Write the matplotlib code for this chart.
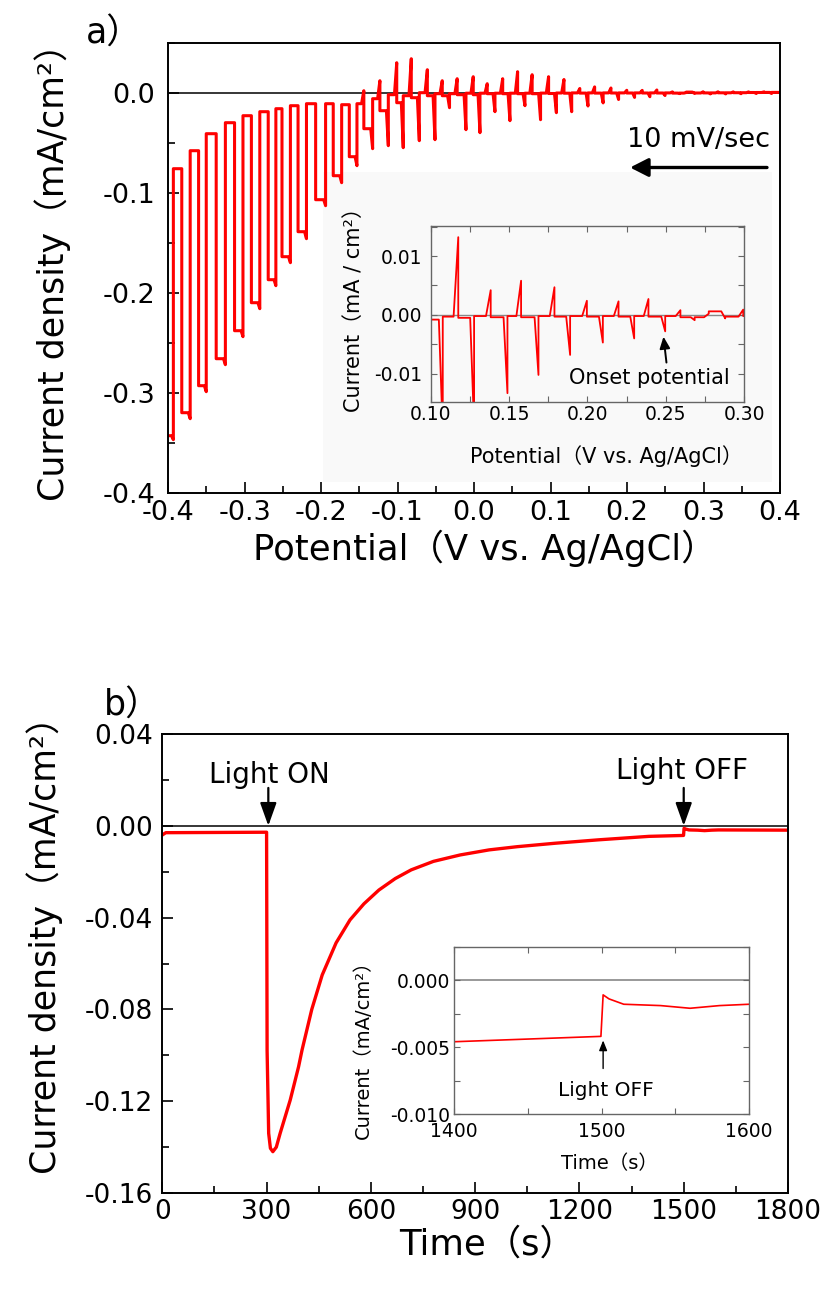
import matplotlib
matplotlib.use("Agg")
import matplotlib.pyplot as plt
from matplotlib.ticker import MultipleLocator, FormatStrFormatter
from matplotlib.patches import Rectangle

plt.rcParams['font.family'] = ['DejaVu Sans', 'Noto Sans CJK SC']
plt.rcParams['axes.unicode_minus'] = False

# ---------------- data: panel a (chopped-light sweep), cycles low -> high potential ----------------
a_light_off_v = [-0.400, -0.382, -0.360, -0.337, -0.313, -0.291, -0.269, -0.251, -0.230, -0.207,
                 -0.184, -0.163, -0.144, -0.123, -0.101, -0.082, -0.061, -0.0415, -0.022, -0.001,
                 0.0173, 0.0375, 0.057, 0.076, 0.0975, 0.1176, 0.1383, 0.1577, 0.179, 0.1997,
                 0.2199, 0.239, 0.2594, 0.2775, 0.2995, 0.319, 0.339, 0.359, 0.379]
a_light_on_v = [-0.393, -0.371, -0.350, -0.325, -0.302, -0.280, -0.259, -0.240, -0.219, -0.194,
                -0.173, -0.153, -0.1325, -0.112, -0.0925, -0.0715, -0.051, -0.032, -0.0105, 0.0078,
                0.0274, 0.047, 0.0666, 0.087, 0.1077, 0.1277, 0.149, 0.1688, 0.189, 0.2099,
                0.2299, 0.2497, 0.2685, 0.2880, 0.309, 0.329, 0.349, 0.369, 0.389]
a_light_j = [-0.343, -0.320, -0.293, -0.266, -0.238, -0.210, -0.187, -0.164, -0.139, -0.107,
             -0.083, -0.064, -0.036, -0.018, -0.010, -0.005, -0.003, -0.003, -0.002, -0.002,
             -0.001, -0.001, -0.001, -0.001, -0.0008, -0.0005, -0.0004, -0.0004, -0.0003, -0.0003,
             -0.0003, -0.0003, -0.0004, 0.0006, -0.0002, -0.0001, 0.0, 0.0002, 0.0003]
a_dip_j = [-0.347, -0.326, -0.299, -0.272, -0.244, -0.216, -0.193, -0.170, -0.146, -0.113,
           -0.090, -0.073, -0.056, -0.053, -0.055, -0.048, -0.047, -0.015, -0.037, -0.040,
           -0.019, -0.028, -0.013, -0.027, -0.020, -0.019, -0.0133, -0.0102, -0.0068, -0.0047,
           -0.0040, -0.0028, -0.0009, -0.0006, -0.0012, -0.0012, -0.0010, -0.0008, -0.0008]
a_peak_j = [-0.343, -0.076, -0.058, -0.041, -0.030, -0.023, -0.019, -0.016, -0.013, -0.011,
            -0.011, -0.012, 0.002, 0.012, 0.030, 0.034, 0.023, 0.012, 0.014, 0.016,
            0.009, 0.014, 0.021, 0.018, 0.016, 0.0132, 0.0042, 0.0058, 0.0047, 0.0024,
            0.0023, 0.0027, 0.0008, 0.0002, 0.0009, 0.0009, 0.0008, 0.0008, 0.0008]
a_dark_j = [-0.076, -0.058, -0.041, -0.030, -0.023, -0.019, -0.016, -0.013, -0.011, -0.011,
            -0.012, -0.011, -0.006, -0.002, -0.003, 0.000, -0.001, -0.001, -0.0005, -0.0005,
            -0.0005, -0.0005, -0.0005, -0.0004, -0.0003, -0.0002, -0.0002, -0.0002, -0.0002, -0.0002,
            -0.0002, -0.0002, -0.0004, -0.0003, -0.0002, -0.0001, 0.0, 0.0002, 0.0003]

# ---------------- data: panel b (chronoamperometry) ----------------
b_time = [0, 10, 300, 301.5, 306, 311, 318, 328, 339, 368, 392, 402, 430, 460, 500, 540, 580,
          623, 670, 716, 780, 857, 940, 1021, 1130, 1256, 1400, 1450, 1499.5, 1501, 1505, 1515,
          1540, 1560, 1580, 1600, 1800]
b_current = [-0.0040, -0.0030, -0.0028, -0.098, -0.134, -0.1405, -0.142, -0.140, -0.134, -0.1195,
             -0.105, -0.0977, -0.080, -0.065, -0.051, -0.041, -0.034, -0.028, -0.023, -0.0192,
             -0.0155, -0.0127, -0.0105, -0.0091, -0.0076, -0.0061, -0.0046, -0.0044, -0.0042,
             -0.0011, -0.0014, -0.0018, -0.0019, -0.0021, -0.0019, -0.0018, -0.0019]

# ---------------- figure ----------------
W, H = 826, 1295
fig = plt.figure(figsize=(W / 100, H / 100), dpi=100)
RED = '#ff0000'


def ax_px(l, t, r, b):
    return fig.add_axes([l / W, 1 - b / H, (r - l) / W, (b - t) / H])


def ftext(x, y, s, **kw):
    fig.text(x / W, 1 - y / H, s, **kw)


# build polyline vertices for panel a from the read cycle values
DIP_W, PEAK_W = 0.0025, 0.003
xa, ya = [-0.4], [a_light_j[0]]
for i in range(len(a_light_on_v)):
    if i > 0:
        xa += [a_light_off_v[i] - PEAK_W, a_light_off_v[i], a_light_off_v[i]]
        ya += [a_dark_j[i - 1], a_peak_j[i], a_light_j[i]]
    xa += [a_light_on_v[i] - DIP_W, a_light_on_v[i], a_light_on_v[i]]
    ya += [a_light_j[i], a_dip_j[i], a_dark_j[i]]
xa.append(0.4)
ya.append(a_dark_j[-1])

# ---------- panel a main ----------
axa = ax_px(168, 42.7, 780, 492.7)
axa.add_patch(Rectangle((323 / W, 1 - 482 / H), 449 / W, 310 / H, transform=fig.transFigure,
                        facecolor='#f9f9f9', edgecolor='none', zorder=0.5))
axa.axhline(0, color='black', lw=1.1, zorder=1)
axa.plot(xa, ya, color=RED, lw=2.2, solid_joinstyle='round', zorder=2)
axa.set_xlim(-0.4, 0.4)
axa.set_ylim(-0.4, 0.05)
axa.xaxis.set_major_locator(MultipleLocator(0.1))
axa.xaxis.set_minor_locator(MultipleLocator(0.05))
axa.yaxis.set_major_locator(MultipleLocator(0.1))
axa.yaxis.set_minor_locator(MultipleLocator(0.05))
axa.xaxis.set_major_formatter(FormatStrFormatter('%.1f'))
axa.yaxis.set_major_formatter(FormatStrFormatter('%.1f'))
axa.tick_params(which='both', direction='in', top=False, right=False, width=1.2)
axa.tick_params(which='major', length=8, labelsize=19.5)
axa.tick_params(which='minor', length=5)
axa.tick_params(axis='y', which='major', pad=9)
axa.tick_params(axis='x', which='major', pad=5)
for s in axa.spines.values():
    s.set_linewidth(1.4)
axa.annotate('', xy=(0.204, -0.0748), xytext=(0.383, -0.0748),
             arrowprops=dict(arrowstyle='-|>,head_length=0.55,head_width=0.28', lw=2.4,
                             color='black', mutation_scale=20, shrinkA=0, shrinkB=0))
axa.text(0.293, -0.047, '10 mV/sec', fontsize=19.5, ha='center', va='center')

ftext(53, 264, 'Current density（mA/cm²）', fontsize=25, rotation=90, ha='center', va='center')
ftext(485, 548, 'Potential（V vs. Ag/AgCl）', fontsize=25.5, ha='center', va='center')
ftext(86, 34, 'a）', fontsize=25, ha='left', va='center')

# ---------- panel a inset ----------
axi = ax_px(430.7, 226, 744, 402)
axi.set_facecolor('#f9f9f9')
axi.axhline(0, color='#888888', lw=1.0, zorder=1)
axi.plot(xa, ya, color=RED, lw=1.3, zorder=2)
axi.set_xlim(0.10, 0.30)
axi.set_ylim(-0.0148, 0.0151)
axi.xaxis.set_major_locator(MultipleLocator(0.05))
axi.xaxis.set_minor_locator(MultipleLocator(0.025))
axi.yaxis.set_major_locator(MultipleLocator(0.01))
axi.yaxis.set_minor_locator(MultipleLocator(0.005))
axi.xaxis.set_major_formatter(FormatStrFormatter('%.2f'))
axi.yaxis.set_major_formatter(FormatStrFormatter('%.2f'))
axi.tick_params(which='both', direction='in', top=True, right=True, width=0.8, color='#666666')
axi.tick_params(which='major', length=4, labelsize=13.5)
axi.tick_params(which='minor', length=4)
axi.tick_params(axis='y', which='major', pad=6)
axi.tick_params(axis='x', which='major', pad=2)
for s in axi.spines.values():
    s.set_linewidth(1.0)
    s.set_color('#666666')
axi.annotate('', xy=(0.2486, -0.0037), xytext=(0.2505, -0.0081),
             arrowprops=dict(arrowstyle='-|>,head_length=0.5,head_width=0.22', lw=1.4,
                             color='black', mutation_scale=14, shrinkA=0, shrinkB=0))
ftext(649, 378, 'Onset potential', fontsize=15, ha='center', va='center')
ftext(606, 456, 'Potential（V vs. Ag/AgCl）', fontsize=15, ha='center', va='center')
ftext(354, 305, 'Current（mA / cm²）', fontsize=15, rotation=90, ha='center', va='center')

# ---------- panel b main ----------
axb = ax_px(162.3, 734, 788, 1193)
axb.axhline(0, color='black', lw=1.1, zorder=1)
axb.plot(b_time, b_current, color=RED, lw=2.4, solid_joinstyle='round', zorder=2)
axb.set_xlim(0, 1800)
axb.set_ylim(-0.16, 0.04)
axb.xaxis.set_major_locator(MultipleLocator(300))
axb.xaxis.set_minor_locator(MultipleLocator(150))
axb.yaxis.set_major_locator(MultipleLocator(0.04))
axb.yaxis.set_minor_locator(MultipleLocator(0.02))
axb.yaxis.set_major_formatter(FormatStrFormatter('%.2f'))
axb.tick_params(which='both', direction='in', top=False, right=False, width=1.2)
axb.tick_params(which='major', length=8, labelsize=19)
axb.tick_params(which='minor', length=5)
axb.tick_params(axis='y', which='major', pad=7)
axb.tick_params(axis='x', which='major', pad=4)
for s in axb.spines.values():
    s.set_linewidth(1.4)
for t_arrow in (305, 1500):
    axb.annotate('', xy=(t_arrow, 0.0), xytext=(t_arrow, 0.0165),
                 arrowprops=dict(arrowstyle='-|>,head_length=0.7,head_width=0.25', lw=1.6,
                                 color='black', mutation_scale=20, shrinkA=0, shrinkB=0))
ftext(269, 775, 'Light ON', fontsize=20, ha='center', va='center')
ftext(682, 771, 'Light OFF', fontsize=20, ha='center', va='center')

ftext(45, 937, 'Current density（mA/cm²）', fontsize=25, rotation=90, ha='center', va='center')
ftext(487, 1245, 'Time（s）', fontsize=25.5, ha='center', va='center')
ftext(104, 706, 'b）', fontsize=25, ha='left', va='center')

# ---------- panel b inset ----------
axbi = ax_px(454.3, 946.7, 749, 1114)
axbi.axhline(0, color='#888888', lw=1.2, zorder=1)
axbi.plot(b_time, b_current, color=RED, lw=1.2, zorder=2)
axbi.set_xlim(1400, 1600)
axbi.set_ylim(-0.010, 0.0025)
axbi.xaxis.set_major_locator(MultipleLocator(100))
axbi.xaxis.set_minor_locator(MultipleLocator(50))
axbi.yaxis.set_major_locator(MultipleLocator(0.005))
axbi.yaxis.set_minor_locator(MultipleLocator(0.0025))
axbi.yaxis.set_major_formatter(FormatStrFormatter('%.3f'))
axbi.tick_params(which='both', direction='in', top=True, right=True, width=0.8, color='#666666')
axbi.tick_params(which='major', length=4, labelsize=13.5)
axbi.tick_params(which='minor', length=4)
axbi.tick_params(axis='y', which='major', pad=3)
axbi.tick_params(axis='x', which='major', pad=6)
for s in axbi.spines.values():
    s.set_linewidth(1.0)
    s.set_color('#666666')
axbi.annotate('', xy=(1501, -0.0045), xytext=(1501, -0.0066),
              arrowprops=dict(arrowstyle='-|>,head_length=0.5,head_width=0.2', lw=1.0,
                              color='black', mutation_scale=12, shrinkA=0, shrinkB=0))
ftext(606, 1090, 'Light OFF', fontsize=14.5, ha='center', va='center')
ftext(609, 1164, 'Time（s）', fontsize=14, ha='center', va='center')
ftext(363, 1045, 'Current（mA/cm²）', fontsize=14, rotation=90, ha='center', va='center')

fig.savefig('out.png', dpi=100)
